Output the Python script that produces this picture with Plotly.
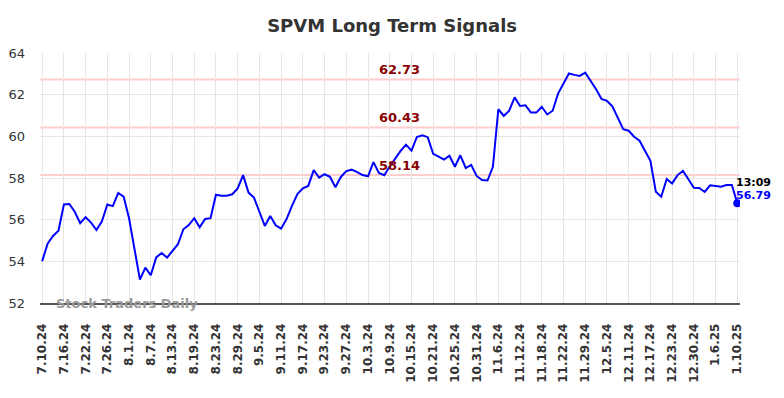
import pandas as pd
import plotly.graph_objects as go

# ---- data ----
start_date = "2024-07-10"
end_date = "2025-01-10"
market_holidays = ["2024-09-02", "2024-11-28", "2024-12-25", "2025-01-01"]

prices = [
    54.0, 54.85, 55.22, 55.47, 56.73, 56.75, 56.38, 55.83, 56.12, 55.86,
    55.5, 55.92, 56.73, 56.65, 57.28, 57.11, 56.07, 54.54, 53.12, 53.7,
    53.33, 54.19, 54.4, 54.18, 54.51, 54.82, 55.54, 55.74, 56.07, 55.63,
    56.03, 56.07, 57.2, 57.15, 57.15, 57.22, 57.5, 58.14, 57.3, 57.06,
    56.38, 55.7, 56.18, 55.73, 55.57, 56.03, 56.66, 57.23, 57.5, 57.62,
    58.38, 58.02, 58.18, 58.06, 57.56, 58.05, 58.33, 58.4, 58.28, 58.14,
    58.08, 58.76, 58.24, 58.13, 58.55, 58.95, 59.3, 59.6, 59.31, 59.97,
    60.05, 59.96, 59.16, 59.03, 58.88, 59.07, 58.54, 59.09, 58.48, 58.63,
    58.1, 57.9, 57.88, 58.54, 61.3, 60.98, 61.23, 61.87, 61.46, 61.49,
    61.14, 61.14, 61.42, 61.05, 61.23, 62.05, 62.52, 63.02, 62.95, 62.9,
    63.06, 62.68, 62.26, 61.79, 61.7, 61.44, 60.91, 60.34, 60.27, 59.98,
    59.79, 59.34, 58.83, 57.34, 57.1, 57.95, 57.74, 58.14, 58.34, 57.94,
    57.53, 57.52, 57.33, 57.65, 57.63, 57.58, 57.66, 57.66, 56.79,
]

tick_labels = [
    "7.10.24", "7.16.24", "7.22.24", "7.26.24", "8.1.24", "8.7.24", "8.13.24",
    "8.19.24", "8.23.24", "8.29.24", "9.5.24", "9.11.24", "9.17.24", "9.23.24",
    "9.27.24", "10.3.24", "10.9.24", "10.15.24", "10.21.24", "10.25.24",
    "10.31.24", "11.6.24", "11.12.24", "11.18.24", "11.22.24", "11.29.24",
    "12.5.24", "12.11.24", "12.17.24", "12.23.24", "12.30.24", "1.6.25", "1.10.25",
]

signal_levels = [62.73, 60.43, 58.14]
last_time = "13:09"
y_ticks = [52, 54, 56, 58, 60, 62, 64]

# trading-day labels (1/9/25 kept in the data feed)
days = pd.bdate_range(start_date, end_date, freq="C", holidays=market_holidays)
dates = [f"{d.month}.{d.day}.{d.year % 100}" for d in days]
dates = dates[:len(prices)]

fig = go.Figure()

for lvl in signal_levels:
    fig.add_hline(y=lvl, line=dict(color="#ffcccc", width=2), layer="below")
    fig.add_annotation(x=0.513, xref="paper", y=lvl, yref="y",
                       text=f"<b>{lvl:.2f}</b>", showarrow=False,
                       yanchor="bottom", font=dict(color="#8b0000", size=13,
                                                   family="DejaVu Sans"))

fig.add_trace(go.Scatter(x=dates, y=prices, mode="lines",
                         line=dict(color="#0000ff", width=2),
                         hoverinfo="skip", showlegend=False))
fig.add_trace(go.Scatter(x=[dates[-1]], y=[prices[-1]], mode="markers",
                         marker=dict(color="#0000ff", size=8),
                         showlegend=False))

fig.add_annotation(x=dates[-1], y=prices[-1], text=f"<b>{last_time}</b>",
                   showarrow=False, xanchor="left", yanchor="middle",
                   yshift=21, xshift=-3,
                   font=dict(color="#000000", size=11, family="DejaVu Sans"))
fig.add_annotation(x=dates[-1], y=prices[-1], text=f"<b>{prices[-1]:.2f}</b>",
                   showarrow=False, xanchor="left", yanchor="middle",
                   yshift=8, xshift=-3,
                   font=dict(color="#0000ff", size=11, family="DejaVu Sans"))

fig.add_annotation(x=0.02, xref="paper", y=52, yref="y",
                   text="<b>Stock Traders Daily</b>", showarrow=False,
                   xanchor="left", yanchor="middle",
                   font=dict(color="#999999", size=13, family="DejaVu Sans"))

fig.update_layout(
    width=776, height=390,
    margin=dict(l=32, r=44, t=45, b=95, autoexpand=False),
    paper_bgcolor="white", plot_bgcolor="white",
    title=dict(text="<b>SPVM Long Term Signals</b>", x=0.495, xanchor="center",
               xref="container", yref="container",
               y=0.954, yanchor="middle",
               font=dict(size=18, color="#333333", family="DejaVu Sans")),
    font=dict(family="DejaVu Sans", color="#333333"),
)

fig.update_xaxes(
    type="category", range=[-0.4, len(prices) - 0.5], automargin=False,
    tickmode="array", tickvals=tick_labels, ticktext=[f"<b>{t}</b>" for t in tick_labels],
    tickangle=-90, tickfont=dict(size=12, color="#333333"),
    showgrid=True, gridcolor="#e6e6e6", gridwidth=1,
    showline=True, linecolor="#555555", linewidth=1.5,
    ticks="", ticklabelstandoff=14, zeroline=False,
)
fig.update_yaxes(
    range=[52, 64], tickvals=y_ticks, automargin=False,
    tickfont=dict(size=13, color="#333333"),
    showgrid=True, gridcolor="#e6e6e6", gridwidth=1,
    showline=False, zeroline=False, ticks="", ticklabelstandoff=14,
)

fig.write_html("out.html")
